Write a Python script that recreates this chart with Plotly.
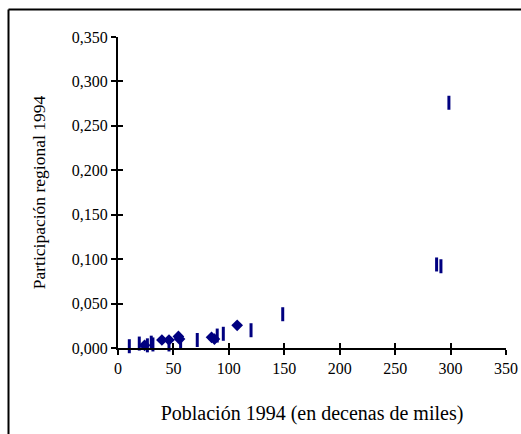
import plotly.graph_objects as go

# Data
bar_x = [10.2, 19.2, 26.5, 30.0, 31.5, 46.0, 56.5, 71.5, 89.5, 95.0, 120.0, 148.6, 287.4, 291.3, 298.5]
bar_y = [0.002, 0.005, 0.003, 0.006, 0.004, 0.004, 0.007, 0.009, 0.014, 0.016, 0.020, 0.038, 0.094, 0.092, 0.276]
dia_x = [24.0, 39.6, 46.0, 54.5, 55.5, 84.4, 87.0, 107.5]
dia_y = [0.003, 0.009, 0.009, 0.013, 0.010, 0.012, 0.010, 0.0255]

x_ticks = [0, 50, 100, 150, 200, 250, 300, 350]
y_ticks = [0.0, 0.05, 0.1, 0.15, 0.2, 0.25, 0.3, 0.35]

x_title = "Población 1994 (en decenas de miles)"
y_title = "Participación regional 1994"

NAVY = "#000080"
FONT = "Liberation Serif"

fig = go.Figure()
fig.add_trace(go.Scatter(
    x=bar_x, y=bar_y, mode="markers", cliponaxis=False,
    marker=dict(symbol="line-ns", size=10, line=dict(width=3, color=NAVY), color=NAVY),
    showlegend=False, hoverinfo="x+y"))
fig.add_trace(go.Scatter(
    x=dia_x, y=dia_y, mode="markers", cliponaxis=False,
    marker=dict(symbol="diamond", size=9, color=NAVY),
    showlegend=False, hoverinfo="x+y"))
# invisible trace to activate overlay axes (for crossing tick marks)
fig.add_trace(go.Scatter(x=[x_ticks[0]], y=[y_ticks[0]], xaxis="x2", yaxis="y2",
                         mode="markers", marker=dict(opacity=0), showlegend=False,
                         hoverinfo="skip"))

W, H = 521, 434
L, R, T, B = 118, 15, 37, 86
pw, ph = W - L - R, H - T - B

fig.update_layout(
    width=W, height=H,
    margin=dict(l=L, r=R, t=T, b=B, autoexpand=False),
    paper_bgcolor="white", plot_bgcolor="white",
    separators=",.",
    font=dict(family=FONT, size=16, color="black"),
    xaxis=dict(range=[0, 350], tickvals=x_ticks, showgrid=False, zeroline=False,
               automargin=False,
               showline=True, linewidth=2, linecolor="black",
               ticks="outside", ticklen=5, tickwidth=2, tickcolor="black",
               tickfont=dict(family=FONT, size=16),
               title=dict(text=x_title, font=dict(family=FONT, size=20), standoff=30)),
    yaxis=dict(range=[0, 0.35], tickvals=y_ticks, tickformat=".3f", showgrid=False,
               zeroline=False, automargin=False,
               showline=True, linewidth=2, linecolor="black",
               ticks="outside", ticklen=5, tickwidth=2, tickcolor="black",
               tickfont=dict(family=FONT, size=16),
               title=dict(text=y_title, font=dict(family=FONT, size=17.5), standoff=22)),
    xaxis2=dict(range=[0, 350], tickvals=x_ticks, overlaying="x", side="bottom",
                automargin=False,
                showgrid=False, zeroline=False, showline=False, showticklabels=False,
                ticks="inside", ticklen=5, tickwidth=2, tickcolor="black"),
    yaxis2=dict(range=[0, 0.35], tickvals=y_ticks, overlaying="y", side="left",
                automargin=False,
                showgrid=False, zeroline=False, showline=False, showticklabels=False,
                ticks="inside", ticklen=5, tickwidth=2, tickcolor="black"),
)

# outer chart border (left and top edges visible)
bx0 = (8.5 - L) / pw
by1 = 1 + (T - 9.5) / ph
fig.add_shape(type="line", xref="paper", yref="paper", x0=bx0, x1=bx0, y0=by1, y1=-0.5,
              line=dict(color="black", width=2))
fig.add_shape(type="line", xref="paper", yref="paper", x0=bx0, x1=1.5, y0=by1, y1=by1,
              line=dict(color="black", width=2))

fig.write_html(
    "out.html",
    config={"displayModeBar": False},
    post_script=("document.body.style.margin='0';"
                 "document.documentElement.style.overflow='hidden';"
                 "document.body.style.overflow='hidden';"),
)
